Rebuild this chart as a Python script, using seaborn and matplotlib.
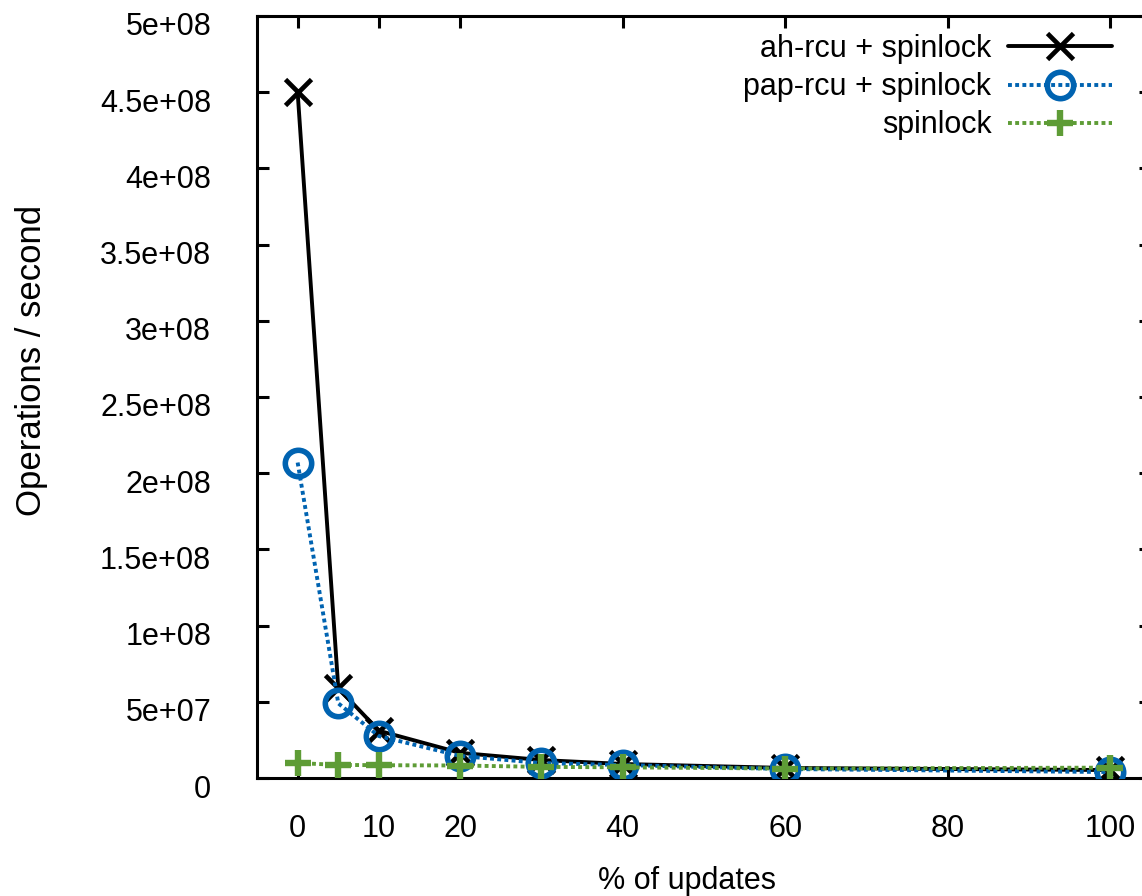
import numpy as np
import pandas as pd
import matplotlib
matplotlib.use("Agg")
import matplotlib.pyplot as plt
import matplotlib.transforms as mtransforms
from matplotlib.ticker import FuncFormatter, FixedLocator
import seaborn as sns

# Throughput (operations / second) against the share of update operations
pct_updates = [0, 5, 10, 20, 30, 40, 60, 100]
ah_rcu_spinlock = [4.5e8, 5.9e7, 3.1e7, 1.65e7, 1.18e7, 9.2e6, 6.6e6, 5.2e6]
pap_rcu_spinlock = [2.07e8, 4.9e7, 2.75e7, 1.45e7, 9.8e6, 8.5e6, 5.9e6, 3.9e6]
spinlock_only = [9.8e6, 8.6e6, 8.4e6, 8.2e6, 7.3e6, 7.0e6, 6.2e6, 6.8e6]

series_names = ["ah-rcu + spinlock", "pap-rcu + spinlock", "spinlock"]
x_ticks = [0, 10, 20, 40, 60, 80, 100]
y_ticks = [0, 5e7, 1e8, 1.5e8, 2e8, 2.5e8, 3e8, 3.5e8, 4e8, 4.5e8, 5e8]

df = pd.DataFrame({
    "pct": pct_updates * 3,
    "ops": ah_rcu_spinlock + pap_rcu_spinlock + spinlock_only,
    "impl": np.repeat(series_names, len(pct_updates)),
})

sns.set_theme(style="ticks")
plt.rcParams["font.family"] = ["Liberation Sans", "DejaVu Sans"]
plt.rcParams["font.size"] = 22
plt.rcParams["text.color"] = "black"
plt.rcParams["axes.labelcolor"] = "black"
plt.rcParams["xtick.color"] = "black"
plt.rcParams["ytick.color"] = "black"

fig = plt.figure(figsize=(11.42, 8.96), dpi=100)
W, H = 1142, 896
ax = fig.add_axes([257 / W, 118 / H, (1151 - 257) / W, (778 - 16) / H])

BLACK = "#000000"
BLUE = "#0063b1"
GREEN = "#5e9c36"
LW = 2.8

styles = {
    "ah-rcu + spinlock": dict(color=BLACK, marker="x", markersize=19,
                              markeredgewidth=3.4, markeredgecolor=BLACK,
                              linestyle="-", linewidth=LW),
    "pap-rcu + spinlock": dict(color=BLUE, marker="o", markersize=19,
                               markeredgewidth=4.0, markeredgecolor=BLUE,
                               markerfacecolor="none",
                               linestyle=(0, (1.0, 0.85)), linewidth=LW,
                               dash_capstyle="butt"),
    "spinlock": dict(color=GREEN, marker="+", markersize=19,
                     markeredgewidth=4.6, markeredgecolor=GREEN,
                     linestyle=(0, (1.0, 0.85)), linewidth=LW,
                     dash_capstyle="butt"),
}

for i, name in enumerate(series_names):
    sub = df[df["impl"] == name]
    sns.lineplot(data=sub, x="pct", y="ops", ax=ax, label=name,
                 zorder=3 + i, **styles[name])

ax.set_xlim(-5, 105)
ax.set_ylim(0, 5e8)
ax.xaxis.set_major_locator(FixedLocator(x_ticks))
ax.yaxis.set_major_locator(FixedLocator(y_ticks))
ax.yaxis.set_major_formatter(FuncFormatter(lambda v, p: "%g" % v))
ax.xaxis.set_major_formatter(FuncFormatter(lambda v, p: "%g" % v))
ax.minorticks_off()

for sp in ax.spines.values():
    sp.set_linewidth(2.2)
    sp.set_color("black")
    sp.set_visible(True)
ax.tick_params(axis="both", which="major", direction="in", length=8.6,
               width=2.2, top=True, right=True, colors="black",
               labelcolor="black", labelsize=22)
ax.tick_params(axis="y", pad=33)
ax.tick_params(axis="x", pad=26)

# nudge y tick labels slightly downward
offset = mtransforms.ScaledTranslation(0, -8 / 100, fig.dpi_scale_trans)
for lab in ax.get_yticklabels():
    lab.set_transform(lab.get_transform() + offset)

ax.set_xlabel("% of updates", fontsize=22, color="black")
ax.set_ylabel("Operations / second", fontsize=25, color="black")
ax.xaxis.set_label_coords((687 - 257) / 894, -(866 - 778) / 762)
ax.yaxis.set_label_coords(-(257 - 48) / 894, (778 - 360) / 762)

leg = ax.legend(loc="upper right", markerfirst=False, frameon=False,
                bbox_to_anchor=(1112 / W, (H - 34) / H),
                bbox_transform=fig.transFigure, borderaxespad=0,
                borderpad=0, handlelength=3.4, handletextpad=0.55,
                labelspacing=0.27, fontsize=22)
for t in leg.get_texts():
    t.set_color("black")

fig.savefig("out.png", dpi=100)
